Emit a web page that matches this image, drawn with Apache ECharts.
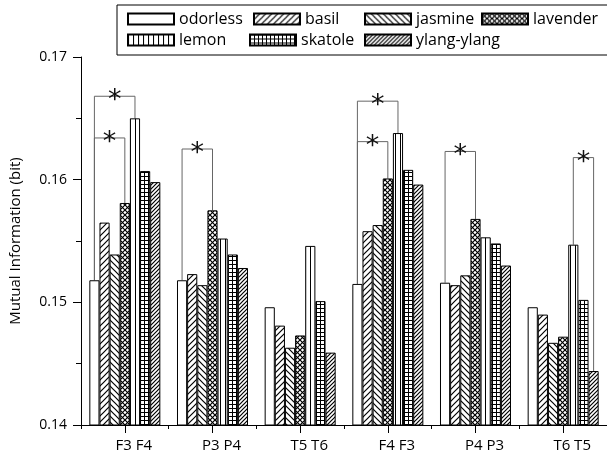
<!DOCTYPE html>
<html>
<head>
<meta charset="utf-8">
<script src="https://cdn.jsdelivr.net/npm/echarts@6/dist/echarts.min.js"></script>
<style>
html,body{margin:0;padding:0;background:#fff;}
#chart{width:607px;height:458px;}
</style>
</head>
<body>
<div id="chart"></div>
<script>
// ---- data ----
var categories = ['F3 F4', 'P3 P4', 'T5 T6', 'F4 F3', 'P4 P3', 'T6 T5'];
var seriesNames = ['odorless', 'basil', 'jasmine', 'lavender', 'lemon', 'skatole', 'ylang-ylang'];
var odorless = [0.1518, 0.1518, 0.1496, 0.1515, 0.1516, 0.1496];
var basil    = [0.1565, 0.1523, 0.1481, 0.1558, 0.1514, 0.1490];
var jasmine  = [0.1539, 0.1514, 0.1463, 0.1563, 0.1522, 0.1467];
var lavender = [0.1581, 0.1575, 0.1473, 0.1601, 0.1568, 0.1472];
var lemon    = [0.1650, 0.1552, 0.1546, 0.1638, 0.1553, 0.1547];
var skatole  = [0.1607, 0.1539, 0.1501, 0.1608, 0.1548, 0.1502];
var ylang    = [0.1598, 0.1528, 0.1459, 0.1596, 0.1530, 0.1444];
var yTicks = [0.14, 0.15, 0.16, 0.17];
// significance brackets: group index, from bar, to bar, bracket height
var bracketGroup = [0, 0, 1, 3, 3, 4, 5];
var bracketFrom  = [0, 0, 0, 0, 0, 0, 4];
var bracketTo    = [4, 3, 3, 4, 3, 3, 6];
var bracketLevel = [0.1668, 0.1634, 0.1625, 0.1664, 0.1631, 0.1623, 0.1618];
var bracketMark  = ['*', '*', '*', '*', '*', '*', '*'];

var allValues = [odorless, basil, jasmine, lavender, lemon, skatole, ylang];

// ---- patterns ----
function makeTile(size, draw) {
  var c = document.createElement('canvas');
  c.width = size; c.height = size;
  var ctx = c.getContext('2d');
  ctx.fillStyle = '#fff';
  ctx.fillRect(0, 0, size, size);
  ctx.strokeStyle = '#000';
  ctx.lineWidth = 1.2;
  draw(ctx, size);
  return { image: c, repeat: 'repeat' };
}
function fwd(ctx, s) { // "/"
  ctx.beginPath();
  ctx.moveTo(-1, s + 1); ctx.lineTo(s + 1, -1);
  ctx.moveTo(-1, 1); ctx.lineTo(1, -1);
  ctx.moveTo(s - 1, s + 1); ctx.lineTo(s + 1, s - 1);
  ctx.stroke();
}
function back(ctx, s) { // "\"
  ctx.beginPath();
  ctx.moveTo(-1, -1); ctx.lineTo(s + 1, s + 1);
  ctx.moveTo(s - 1, -1); ctx.lineTo(s + 1, 1);
  ctx.moveTo(-1, s - 1); ctx.lineTo(1, s + 1);
  ctx.stroke();
}
var patterns = [
  '#ffffff',
  makeTile(6, fwd),
  makeTile(6, back),
  makeTile(5, function (ctx, s) { fwd(ctx, s); back(ctx, s); }),
  makeTile(5, function (ctx, s) { ctx.lineWidth = 1; ctx.beginPath(); ctx.moveTo(0.5, 0); ctx.lineTo(0.5, s); ctx.stroke(); }),
  makeTile(4, function (ctx, s) { ctx.lineWidth = 1; ctx.beginPath(); ctx.moveTo(0.5, 0); ctx.lineTo(0.5, s); ctx.moveTo(0, 0.5); ctx.lineTo(s, 0.5); ctx.stroke(); }),
  makeTile(4, fwd)
];

var FONT = 'Open Sans';
var BAR_FRACTION = 0.81;

var series = seriesNames.map(function (name, i) {
  return {
    name: name,
    type: 'bar',
    data: allValues[i],
    barGap: '0%',
    barCategoryGap: '19%',
    itemStyle: { color: patterns[i], borderColor: '#000', borderWidth: 1 },
    emphasis: { disabled: true },
    animation: false
  };
});

var bracketData = bracketGroup.map(function (g, i) {
  return [g, bracketFrom[i], bracketTo[i], bracketLevel[i], i];
});

series.push({
  type: 'custom',
  name: 'brackets',
  xAxisIndex: 0,
  clip: false,
  silent: true,
  animation: false,
  encode: { x: 0, y: 3 },
  data: bracketData,
  renderItem: function (params, api) {
    var g = api.value(0), from = api.value(1), to = api.value(2), lvl = api.value(3), idx = api.value(4);
    var band = api.size([1, 0])[0];
    var bw = band * BAR_FRACTION / seriesNames.length;
    var cx = api.coord([g, lvl])[0];
    var yTop = api.coord([g, lvl])[1];
    var x1 = cx + (from - (seriesNames.length - 1) / 2) * bw;
    var x2 = cx + (to - (seriesNames.length - 1) / 2) * bw;
    var y1 = api.coord([g, allValues[from][g]])[1];
    var y2 = api.coord([g, allValues[to][g]])[1];
    var ls = { stroke: '#666', lineWidth: 1, fill: null };
    return {
      type: 'group',
      children: [
        { type: 'polyline', shape: { points: [[x1, y1], [x1, yTop], [x2, yTop], [x2, y2]] }, style: ls },
        { type: 'text', x: (x1 + x2) / 2, y: yTop + 5,
          style: { text: bracketMark[idx], fill: '#111', font: '27px "DejaVu Sans"', align: 'center', verticalAlign: 'middle' } }
      ]
    };
  }
});

var legendData = [
  { name: 'odorless', textStyle: { width: 69 } },
  { name: 'basil', textStyle: { width: 54 } },
  { name: 'jasmine', textStyle: { width: 60 } },
  { name: 'lavender', textStyle: { width: 66 } },
  { name: 'lemon', textStyle: { width: 65 } },
  { name: 'skatole', textStyle: { width: 58 } },
  { name: 'ylang-ylang', textStyle: { width: 90 } }
];

var chart = echarts.init(document.getElementById('chart'), null, { renderer: 'canvas' });
chart.setOption({
  animation: false,
  backgroundColor: '#fff',
  textStyle: { fontFamily: FONT },
  grid: { left: 80, right: -1, top: 57, bottom: 33 },
  legend: {
    data: legendData,
    left: 117, top: 5,
    width: 480,
    padding: [6, 10, 7, 10],
    itemGap: 5,
    itemWidth: 46,
    itemHeight: 11,
    icon: 'rect',
    borderColor: '#000',
    borderWidth: 1,
    selectedMode: false,
    textStyle: { fontFamily: FONT, fontSize: 16, color: '#000', lineHeight: 14, padding: 0 }
  },
  xAxis: [
    {
      type: 'category', data: categories, position: 'bottom', boundaryGap: true,
      axisLine: { lineStyle: { color: '#000', width: 1 } },
      axisTick: { show: true, interval: 0, length: 4, lineStyle: { color: '#000' } },
      axisLabel: { show: false }
    },
    {
      type: 'category', data: categories, position: 'bottom', boundaryGap: true,
      axisLine: { show: false },
      axisTick: { show: true, interval: 0, alignWithLabel: true, length: 8, lineStyle: { color: '#000' } },
      axisLabel: { show: true, interval: 0, margin: 13, color: '#000', fontFamily: FONT, fontSize: 15, padding: [0, 0, 0, 18] }
    }
  ],
  yAxis: {
    type: 'value', min: yTicks[0], max: yTicks[yTicks.length - 1], interval: 0.01,
    name: 'Mutual Information (bit)', nameLocation: 'middle', nameRotate: 90, nameGap: 58,
    nameTextStyle: { fontFamily: FONT, fontSize: 15, color: '#000' },
    axisLine: { show: true, lineStyle: { color: '#000', width: 1 } },
    axisTick: { show: true, length: 8, lineStyle: { color: '#000' } },
    minorTick: { show: true, splitNumber: 2, length: 5, lineStyle: { color: '#000' } },
    splitLine: { show: false },
    axisLabel: { margin: 14, color: '#000', fontFamily: FONT, fontSize: 14, formatter: function (v) { return v.toFixed(2); } }
  },
  series: series
});
</script>
</body>
</html>
